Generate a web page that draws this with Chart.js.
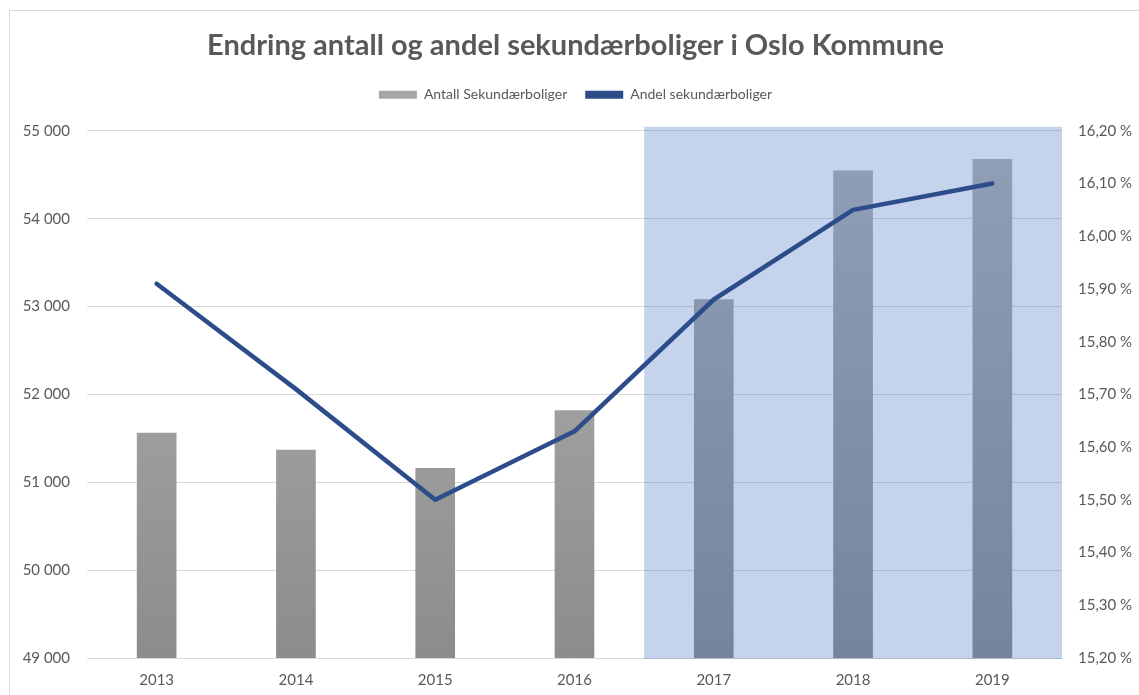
<!DOCTYPE html>
<html>
<head>
<meta charset="utf-8">
<script src="https://cdn.jsdelivr.net/npm/chart.js@4/dist/chart.umd.min.js"></script>
<style>
  html, body { margin: 0; padding: 0; background: #fff; overflow: hidden; }
  #frame { position: absolute; left: 9px; top: 10px; width: 1300px; height: 900px; border: 1px solid #d9d9d9; }
  #wrap { position: absolute; left: 0; top: 0; width: 1139px; height: 695px; }
</style>
</head>
<body>
<div id="frame"></div>
<div id="wrap"><canvas id="grafico"></canvas></div>
<script>
// Dados
const years = ['2013', '2014', '2015', '2016', '2017', '2018', '2019'];
const antall = [51560, 51365, 51160, 51815, 53080, 54545, 54675];
const andel = [15.91, 15.71, 15.50, 15.63, 15.88, 16.05, 16.10];
const leftTicks = [49000, 50000, 51000, 52000, 53000, 54000, 55000];
const rightTicks = [15.2, 15.3, 15.4, 15.5, 15.6, 15.7, 15.8, 15.9, 16.0, 16.1, 16.2];
const highlightFrom = '2017';

const textColor = '#595959';
const font = 'Lato';

function barGradient(context) {
    const chart = context.chart;
    const area = chart.chartArea;
    if (!area) return '#9e9e9e';
    const g = chart.ctx.createLinearGradient(0, area.top, 0, area.bottom);
    g.addColorStop(0, '#b4b4b4');
    g.addColorStop(1, '#8c8c8c');
    return g;
}

// skravert område 2017-2019
const highlightPlugin = {
    id: 'highlight',
    afterDatasetDraw(chart, args) {
        if (args.meta.type !== 'bar') return;
        const x = chart.scales.x;
        const area = chart.chartArea;
        const idx = years.indexOf(highlightFrom);
        const half = (x.getPixelForValue(1) - x.getPixelForValue(0)) / 2;
        const left = x.getPixelForValue(idx) - half;
        const ctx = chart.ctx;
        ctx.save();
        ctx.fillStyle = 'rgba(68, 114, 196, 0.31)';
        ctx.fillRect(left, area.top - 4, area.right - left, area.bottom - area.top + 5);
        ctx.restore();
    }
};

// litt ekstra luft under legenden
const legendSpacer = {
    id: 'legendSpacer',
    beforeLayout(chart) {
        const lg = chart.legend;
        if (!lg || lg._spaced) return;
        const fit = lg.fit.bind(lg);
        lg.fit = function() { fit(); this.height += 19; };
        lg._spaced = true;
    }
};

const data = {
    labels: years,
    datasets: [{
        type: 'bar',
        label: 'Antall Sekundærboliger',
        data: antall,
        backgroundColor: barGradient,
        borderWidth: 0,
        barThickness: 39,
        yAxisID: 'y',
        order: 2
    }, {
        type: 'line',
        label: 'Andel sekundærboliger',
        data: andel,
        borderColor: '#2c4d8a',
        backgroundColor: '#2c4d8a',
        borderWidth: 4.5,
        borderCapStyle: 'round',
        borderJoinStyle: 'round',
        pointRadius: 0,
        tension: 0,
        yAxisID: 'y1',
        order: 1
    }]
};

window.onload = function() {
    const ctx = document.getElementById('grafico').getContext('2d');
    new Chart(ctx, {
        data: data,
        plugins: [highlightPlugin, legendSpacer],
        options: {
            responsive: true,
            maintainAspectRatio: false,
            animation: false,
            layout: { padding: { top: 22, left: 12, right: 0, bottom: 0 } },
            plugins: {
                tooltip: { enabled: false },
                title: {
                    display: true,
                    text: 'Endring antall og andel sekundærboliger i Oslo Kommune',
                    color: textColor,
                    font: { family: font, size: 29, weight: 'bold' },
                    padding: { top: 6, bottom: 7 }
                },
                legend: {
                    display: true,
                    labels: {
                        color: textColor,
                        font: { family: font, size: 14 },
                        boxWidth: 38,
                        boxHeight: 8,
                        padding: 18,
                        generateLabels(chart) {
                            return chart.data.datasets.map((ds, i) => ({
                                text: ds.label,
                                fillStyle: i === 0 ? '#a6a6a6' : '#2c4d8a',
                                strokeStyle: 'rgba(0,0,0,0)',
                                lineWidth: 0,
                                fontColor: textColor,
                                hidden: false,
                                datasetIndex: i
                            }));
                        }
                    }
                }
            },
            scales: {
                x: {
                    grid: { display: false },
                    border: { display: false },
                    ticks: { color: textColor, font: { family: font, size: 15 }, padding: 5 },
                    afterFit(scale) { scale.height = 37; }
                },
                y: {
                    position: 'left',
                    min: leftTicks[0],
                    max: leftTicks[leftTicks.length - 1],
                    afterBuildTicks(scale) { scale.ticks = leftTicks.map(v => ({ value: v })); },
                    grid: { color: '#d9d9d9', lineWidth: 1, drawTicks: false },
                    border: { display: false },
                    ticks: {
                        color: textColor,
                        font: { family: font, size: 15 },
                        padding: 17,
                        callback: v => String(v).replace(/\B(?=(\d{3})+(?!\d))/g, ' ')
                    },
                    afterFit(scale) { scale.width = 75; }
                },
                y1: {
                    position: 'right',
                    min: rightTicks[0],
                    max: rightTicks[rightTicks.length - 1],
                    afterBuildTicks(scale) { scale.ticks = rightTicks.map(v => ({ value: v })); },
                    grid: { display: false, drawTicks: false },
                    border: { display: false },
                    ticks: {
                        color: textColor,
                        font: { family: font, size: 15 },
                        padding: 16,
                        callback: v => v.toFixed(2).replace('.', ',') + ' %'
                    },
                    afterFit(scale) { scale.width = 77; }
                }
            }
        }
    });
};
</script>
</body>
</html>
